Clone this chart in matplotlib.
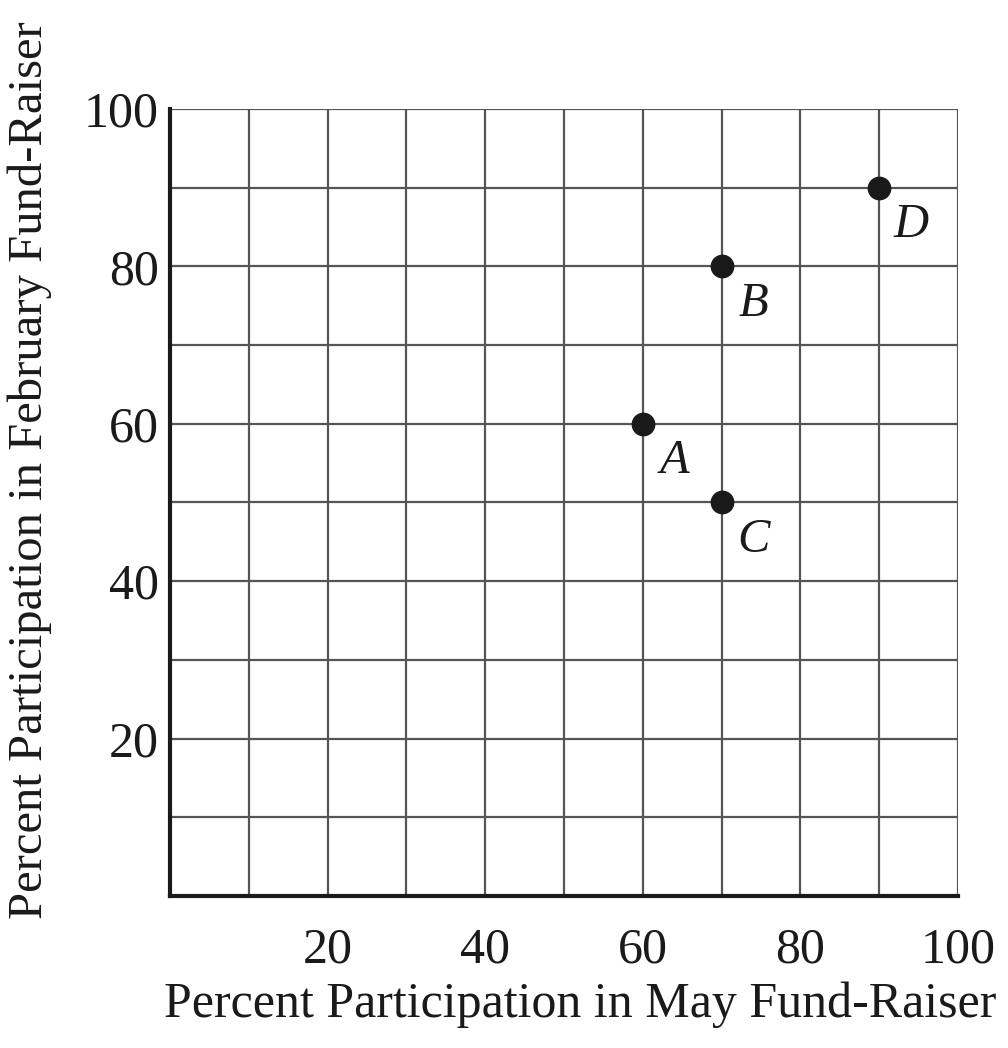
import matplotlib
matplotlib.use("Agg")
import matplotlib.pyplot as plt

point_labels = ["A", "B", "C", "D"]
may_pct = [60, 70, 70, 90]
feb_pct = [60, 80, 50, 90]
tick_values = [20, 40, 60, 80, 100]
x_title = "Percent Participation in May Fund-Raiser"
y_title = "Percent Participation in February Fund-Raiser"

plt.rcParams['font.family'] = ['Liberation Serif', 'DejaVu Serif']

fig = plt.figure(figsize=(10.08, 10.48), dpi=100)
ax = fig.add_axes([170/1008, 1-896/1048, (958-170)/1008, (896-109)/1048])
ax.set_xlim(0, 100)
ax.set_ylim(0, 100)

for v in range(10, 101, 10):
    ax.axvline(v, color='#555555', lw=1.6, zorder=1)
    ax.axhline(v, color='#555555', lw=1.6, zorder=1)

for s in ['top', 'right']:
    ax.spines[s].set_visible(False)
for s in ['left', 'bottom']:
    ax.spines[s].set_linewidth(3)
    ax.spines[s].set_color('#1a1a1a')
    ax.spines[s].set_zorder(3)

ax.scatter(may_pct, feb_pct, s=260, color='#1a1a1a', zorder=4)
for lab, x, y in zip(point_labels, may_pct, feb_pct):
    ax.annotate(lab, (x, y), xytext=(23, -27), textcoords='offset points',
                fontsize=35, fontstyle='italic', color='#1a1a1a', va='center', ha='center')

ax.set_xticks(tick_values)
ax.set_yticks(tick_values)
ax.set_xticklabels([str(v) for v in tick_values])
ax.set_yticklabels([str(v) for v in tick_values])
ax.tick_params(length=0, labelsize=36, colors='#1a1a1a', pad=8)
ax.tick_params(axis='x', pad=22)

ax.set_xlabel(x_title, fontsize=36, color='#1a1a1a')
ax.set_ylabel(y_title, fontsize=35, color='#1a1a1a')
ax.xaxis.set_label_coords((580 - 170) / 788, -(1005 - 896) / 787)
ax.yaxis.set_label_coords(-(170 - 30) / 788, (896 - 470) / 787)
ax.xaxis.label.set_va('center')
ax.yaxis.label.set_va('center')

fig.savefig("out.png", dpi=100)
